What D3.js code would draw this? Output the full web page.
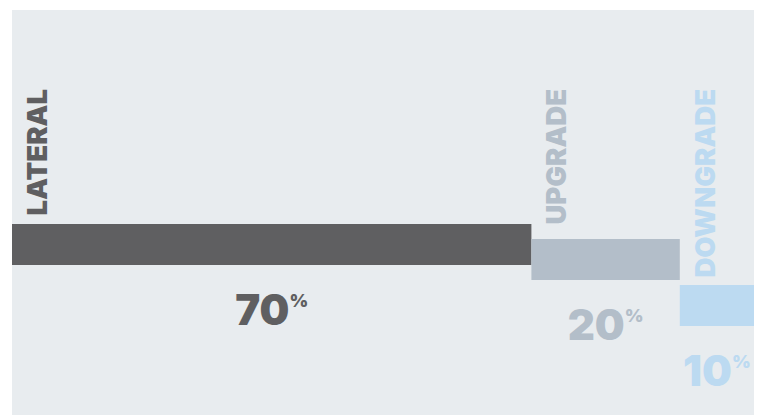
<!DOCTYPE html>
<html><head><meta charset="utf-8">
<script src="https://cdn.jsdelivr.net/npm/d3@7"></script>
<style>html,body{margin:0;padding:0;background:#fff;}svg{display:block;}</style>
</head><body>
<script>
const categories = ["LATERAL", "UPGRADE", "DOWNGRADE"];
const values = [70, 20, 10];
const colors = ["#5f5f61", "#b3bec9", "#bcdaf1"];

const W = 758, H = 415;
const svg = d3.select("body").append("svg").attr("width", W).attr("height", H);
const font = "Inter, 'Open Sans', sans-serif";

svg.append("rect").attr("x", 12).attr("y", 10).attr("width", 742).attr("height", 405).attr("fill", "#e8ecef");

const starts = values.map((v, i) => d3.sum(values.slice(0, i)));
const x = d3.scaleLinear().domain([0, d3.sum(values)]).range([12, 754]);
const yTop = d3.scaleOrdinal().domain(categories).range([224, 239, 285]);
const barH = 41;

const g = svg.selectAll("g.bar").data(categories).join("g").attr("class", "bar");

g.append("rect")
  .attr("x", (d, i) => x(starts[i]))
  .attr("y", d => yTop(d))
  .attr("width", (d, i) => x(starts[i] + values[i]) - x(starts[i]))
  .attr("height", barH)
  .attr("fill", (d, i) => colors[i]);

g.append("text")
  .attr("transform", (d, i) => `translate(${x(starts[i]) + 35},89) rotate(-90)`)
  .attr("text-anchor", "end")
  .attr("font-family", font)
  .attr("font-weight", 900)
  .attr("font-size", 27.5)
  .attr("fill", (d, i) => colors[i])
  .text(d => d);

const lab = g.append("text")
  .attr("x", (d, i) => (x(starts[i]) + x(starts[i] + values[i])) / 2)
  .attr("y", d => yTop(d) + barH + 60)
  .attr("text-anchor", "middle")
  .attr("font-family", font)
  .attr("font-weight", 900)
  .attr("fill", (d, i) => colors[i]);
lab.append("tspan").attr("font-size", 42).text((d, i) => values[i]);
lab.append("tspan").attr("font-size", 18).attr("dy", -18).attr("dx", 0).text("%");
</script>
</body></html>
